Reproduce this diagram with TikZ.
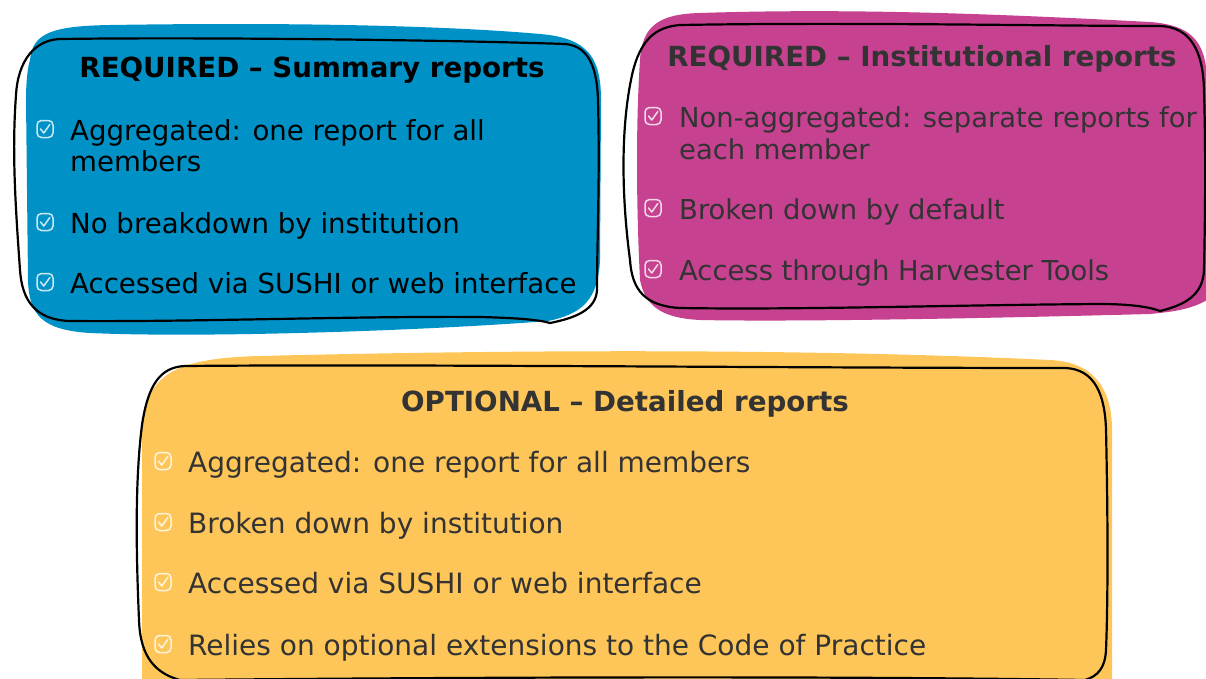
\documentclass[tikz,border=0pt]{standalone}
\usepackage{fontspec}
\setmainfont{DejaVu Sans}
\definecolor{cblue}{RGB}{0,146,199}
\definecolor{cmag}{RGB}{198,65,144}
\definecolor{cyel}{RGB}{254,198,88}
\definecolor{ctext}{RGB}{51,51,51}
\tikzset{
  outl/.style={draw=black, line width=2.2pt, line join=round},
  ttl/.style={anchor=base, inner sep=0pt, font=\fontsize{27.7}{31}\selectfont\bfseries},
  item/.style={anchor=base west, inner sep=0pt, font=\fontsize{27.4}{31}\selectfont},
  itemb/.style={item, font=\fontsize{27.6}{31}\selectfont},
  itemy/.style={item, font=\fontsize{28.0}{31}\selectfont},
  chk/.pic={
    \draw[white, opacity=0.8, line width=1.5pt, rounded corners=4.5pt] (-8,-8.5) rectangle (8,8.5);
    \draw[white, opacity=0.8, line width=1.5pt, line cap=round, line join=round] (-4.5,0) -- (-1.2,4) -- (4.8,-4.5);
  }
}
\begin{document}
\begin{tikzpicture}[x=1pt,y=-1pt]
\useasboundingbox (0,0) rectangle (1206,678);

% ---------- blue box ----------
\fill[cblue] (30,60) .. controls (32,32) and (55,26) .. (110,25)
  .. controls (300,22) and (450,26) .. (540,34)
  .. controls (590,38) and (601,60) .. (601,100)
  -- (600,260) .. controls (598,300) and (582,314) .. (548,321)
  .. controls (420,331) and (200,338) .. (90,333)
  .. controls (42,330) and (29,315) .. (28,280)
  -- (26,100) .. controls (26,80) and (28,66) .. (30,60) -- cycle;
\draw[outl] (60,39) .. controls (200,37) and (450,40) .. (565,44)
  .. controls (590,46) and (597,70) .. (598,100)
  .. controls (600,180) and (597,240) .. (597,290)
  .. controls (596,310) and (575,318) .. (550,323)
  .. controls (540,320) and (520,318) .. (480,317)
  .. controls (350,316) and (200,322) .. (70,321)
  .. controls (35,320) and (22,300) .. (20,270)
  .. controls (15,200) and (12,150) .. (16,95)
  .. controls (18,60) and (35,40) .. (60,39) -- cycle;
\node[ttl, text=black] (bt) at (312,77) {REQUIRED – Summary reports};
\pic at (45,129) {chk};
\node[itemb, text=black] (b1) at (70,140) {Aggregated: one report for all};
\node[itemb, text=black] (b1b) at (70,171) {members};
\pic at (45,222) {chk};
\node[itemb, text=black] (b2) at (70,233) {No breakdown by institution};
\pic at (45,282) {chk};
\node[itemb, text=black] (b3) at (70,293) {Accessed via SUSHI or web interface};

% ---------- magenta box ----------
\fill[cmag] (640,60) .. controls (642,25) and (660,14) .. (700,13)
  .. controls (850,8) and (1000,14) .. (1150,22)
  .. controls (1190,25) and (1206,40) .. (1207,80)
  -- (1207,300) .. controls (1190,310) and (1170,312) .. (1150,314)
  .. controls (1000,318) and (800,322) .. (700,320)
  .. controls (660,318) and (645,305) .. (640,280)
  .. controls (636,200) and (636,120) .. (640,60) -- cycle;
\draw[outl] (680,25) .. controls (850,22) and (1050,26) .. (1160,26)
  .. controls (1190,27) and (1203,50) .. (1204,90)
  .. controls (1206,160) and (1205,220) .. (1204,270)
  .. controls (1203,295) and (1185,305) .. (1160,311)
  .. controls (1150,307) and (1130,304) .. (1100,304)
  .. controls (950,305) and (800,310) .. (680,308)
  .. controls (645,306) and (632,290) .. (630,260)
  .. controls (622,200) and (620,130) .. (632,75)
  .. controls (640,40) and (655,27) .. (680,25) -- cycle;
\node[ttl, text=ctext] (mt) at (922,66) {REQUIRED – Institutional reports};
\pic at (653,116) {chk};
\node[item, text=ctext] (m1) at (679,127) {Non-aggregated: separate reports for};
\node[item, text=ctext] (m1b) at (679,159) {each member};
\pic at (653,208) {chk};
\node[item, text=ctext] (m2) at (679,219) {Broken down by default};
\pic at (653,269) {chk};
\node[item, text=ctext] (m3) at (679,280) {Access through Harvester Tools};

% ---------- yellow box ----------
\fill[cyel] (142,420) .. controls (150,372) and (180,358) .. (260,356)
  .. controls (500,350) and (800,348) .. (1050,360)
  .. controls (1095,362) and (1112,390) .. (1112,430)
  -- (1112,690) -- (142,690) -- cycle;
\draw[outl] (185,366) .. controls (400,364) and (800,368) .. (1065,368)
  .. controls (1095,369) and (1105,395) .. (1106,430)
  .. controls (1108,520) and (1108,600) .. (1106,650)
  .. controls (1105,668) and (1098,676) .. (1085,680)
  .. controls (900,677) and (600,676) .. (180,680)
  .. controls (150,672) and (140,650) .. (139,620)
  .. controls (136,550) and (135,480) .. (142,425)
  .. controls (148,385) and (160,367) .. (185,366) -- cycle;
\node[ttl, text=ctext] (yt) at (625,411) {OPTIONAL – Detailed reports};
\pic at (163,461) {chk};
\node[itemy, text=ctext] (y1) at (188,472) {Aggregated: one report for all members};
\pic at (163,522) {chk};
\node[itemy, text=ctext] (y2) at (188,533) {Broken down by institution};
\pic at (163,582) {chk};
\node[itemy, text=ctext] (y3) at (188,593) {Accessed via SUSHI or web interface};
\pic at (163,644) {chk};
\node[itemy, text=ctext] (y4) at (188,655) {Relies on optional extensions to the Code of Practice};
\end{tikzpicture}
\end{document}
